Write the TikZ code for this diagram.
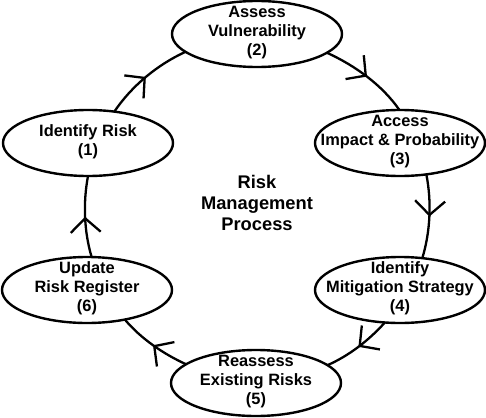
\documentclass[tikz,border=0pt]{standalone}
\usepackage{fontspec}
\setmainfont{Liberation Sans}
\usetikzlibrary{arrows.meta,decorations.markings,shapes.geometric}
\newcommand\elltext[1]{\makebox[0pt]{\raisebox{-3.5pt}[0pt][0pt]{\begin{tabular}{@{}c@{}}#1\end{tabular}}}}
\begin{document}
\begin{tikzpicture}[x=1pt,y=-1pt,
  stage/.style={ellipse, draw, line width=2.4pt, minimum width=170pt, minimum height=66pt,
    inner sep=0pt, outer sep=0pt, fill=white, font=\fontsize{16.4}{19}\selectfont\bfseries},
  flow/.style={line width=2.3pt, looseness=0.85, postaction={decorate},
    decoration={markings, mark=at position 0.5 with {\arrow{Straight Barb[length=14pt,width=30pt]}}}},
  titletext/.style={inner sep=0pt, font=\fontsize{18.3}{21}\selectfont\bfseries}]
\fill[white] (0,0) rectangle (486,417);
\useasboundingbox (0,0) rectangle (486,417);
\node[stage] (n1) at (88,143) {\elltext{Identify Risk\\(1)}};
\node[stage] (n2) at (257,34) {\elltext{Assess\\Vulnerability\\(2)}};
\node[stage] (n3) at (400,143) {\elltext{Access\\Impact \& Probability\\(3)}};
\node[stage] (n4) at (400,290) {\elltext{Identify\\Mitigation Strategy\\(4)}};
\node[stage] (n5) at (256,383) {\elltext{Reassess\\Existing Risks\\(5)}};
\node[stage] (n6) at (87,290) {\elltext{Update\\Risk Register\\(6)}};
\node[titletext] (t) at (257,205) {\begin{tabular}{@{}c@{}}Risk\\Management\\Process\end{tabular}};
\draw[flow] (n1.50) to[out=56,in=204.6] (n2.194.2);
\draw[flow] (n2.345.8) to[out=-24.6,in=124.7] (n3.91);
\draw[flow] (n3.310) to[out=-78.8,in=73.1] (n4.55.4);
\draw[flow] (n4.245.5) to[out=-131.8,in=23.8] (n5.14.4);
\draw[flow] (n5.165.3) to[out=155.4,in=-49.7] (n6.322.7);
\draw[flow] (n6.82) to[out=106.5,in=259.3] (n1.270);
\end{tikzpicture}
\end{document}
